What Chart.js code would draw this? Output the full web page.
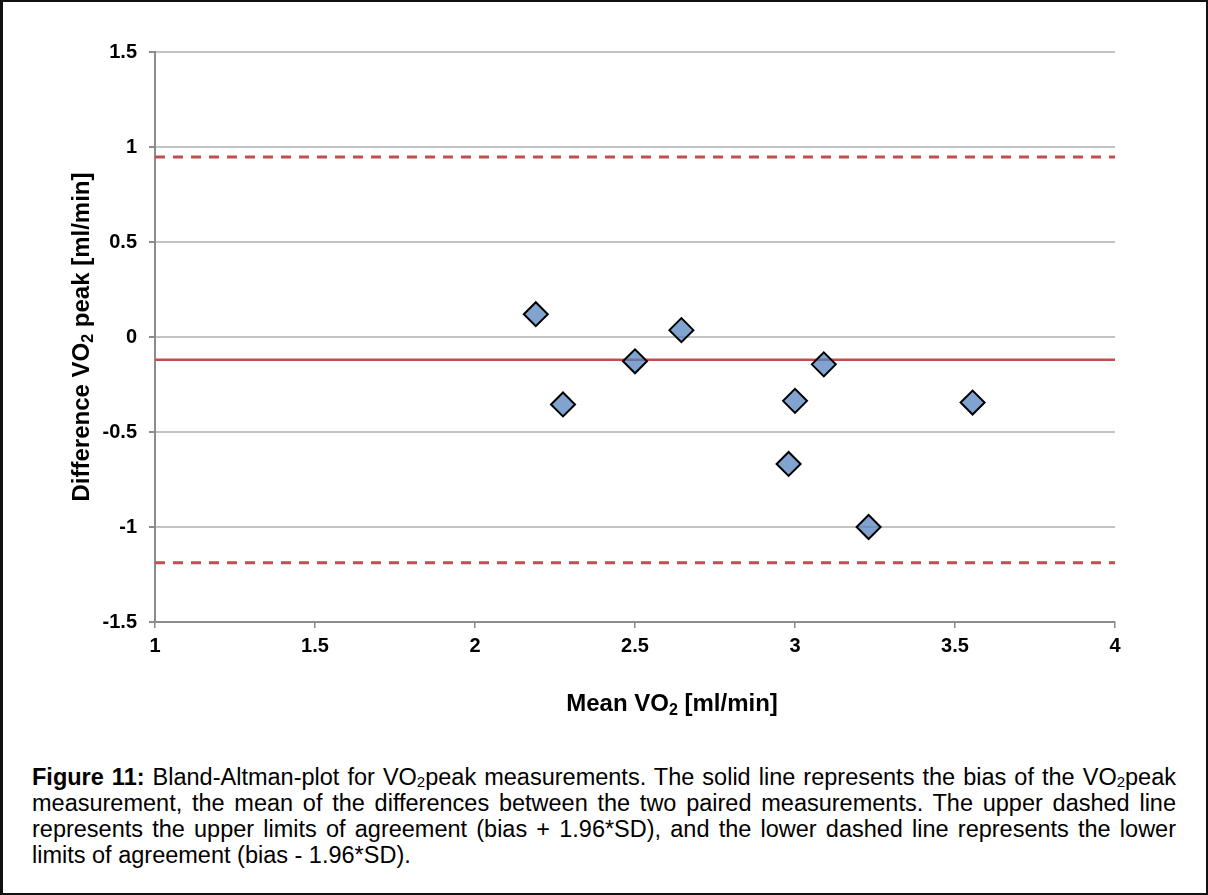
<!DOCTYPE html>
<html>
<head>
<meta charset="utf-8">
<title>Bland-Altman plot VO2peak</title>
<script src="https://cdn.jsdelivr.net/npm/chart.js@4.4.1/dist/chart.umd.min.js"></script>
<style>
  html, body { margin: 0; padding: 0; background: #fff; }
  #frame {
    position: relative; width: 1208px; height: 895px; box-sizing: border-box;
    border: 2px solid #111; border-left-width: 3px; background: #fff; overflow: hidden;
  }
  #plot { position: absolute; left: -3px; top: -2px; width: 1208px; height: 740px; }
  #caption {
    position: absolute; left: 29px; top: 762px; width: 1144px;
    font-family: "Liberation Sans", Arial, sans-serif; font-size: 23.5px; line-height: 26px;
    color: #000;
  }
  #caption .ln { white-space: nowrap; text-align: justify; text-align-last: justify; }
  #caption .ln.last { text-align-last: left; }
  #caption sub { font-size: 15px; vertical-align: -2px; line-height: 0; }
</style>
</head>
<body>
<div id="frame">
  <div id="plot"><canvas id="c"></canvas></div>
  <div id="caption">
    <div class="ln"><b>Figure 11:</b> Bland-Altman-plot for VO<sub>2</sub>peak measurements. The solid line represents the bias of the VO<sub>2</sub>peak</div>
    <div class="ln">measurement, the mean of the differences between the two paired measurements. The upper dashed line</div>
    <div class="ln">represents the upper limits of agreement (bias + 1.96*SD), and the lower dashed line represents the lower</div>
    <div class="ln last">limits of agreement (bias - 1.96*SD).</div>
  </div>
</div>
<script>
// Mean of the two VO2peak measurements per subject (x) and their difference (y)
const meanVO2 = [2.19, 2.275, 2.50, 2.645, 2.98, 3.00, 3.09, 3.23, 3.555];
const diffVO2 = [0.12, -0.355, -0.128, 0.036, -0.668, -0.336, -0.144, -1.00, -0.345];

// Bias and limits of agreement (bias ± 1.96*SD)
const bias = -0.12;
const upperLoA = 0.948;
const lowerLoA = -1.188;

// Axis ranges and tick steps
const xRange = [1, 4];
const yRange = [-1.5, 1.5];
const tickStep = 0.5;

// Axis titles as [text, isSubscript] runs
const xTitle = [['Mean VO', false], ['2', true], [' [ml/min]', false]];
const yTitle = [['Difference VO', false], ['2', true], [' peak [ml/min]', false]];

const FONT = '"Liberation Sans", Arial, sans-serif';
const RED = '#C0504D';
const AXIS = '#8c8c8c';
const TITLE_FONT = 'bold 24px ' + FONT;
const SUB_FONT = 'bold 16px ' + FONT;

const points = meanVO2.map((x, i) => ({ x, y: diffVO2[i] }));
const hline = v => [{ x: xRange[0], y: v }, { x: xRange[1], y: v }];
const tickText = v => String(v);

// Draws a run of text with subscripts, centred on (cx, cy), optionally rotated
function drawRichText(ctx, runs, cx, cy, angle) {
  ctx.save();
  ctx.translate(cx, cy);
  ctx.rotate(angle);
  ctx.fillStyle = '#000';
  ctx.textBaseline = 'alphabetic';
  ctx.textAlign = 'left';
  let total = 0;
  const widths = runs.map(([t, sub]) => {
    ctx.font = sub ? SUB_FONT : TITLE_FONT;
    const w = ctx.measureText(t).width;
    total += w;
    return w;
  });
  let x = -total / 2;
  runs.forEach(([t, sub], i) => {
    ctx.font = sub ? SUB_FONT : TITLE_FONT;
    ctx.fillText(t, x, sub ? 13 : 8.5);
    x += widths[i];
  });
  ctx.restore();
}

const axisTitles = {
  id: 'axisTitles',
  afterDraw(chart) {
    const { ctx } = chart;
    const xs = chart.scales.x, ys = chart.scales.y;
    drawRichText(ctx, xTitle, (xs.left + xs.right) / 2 + 37, xs.bottom - 38, 0);
    drawRichText(ctx, yTitle, ys.left + 80, (ys.top + ys.bottom) / 2, -Math.PI / 2);
  }
};

new Chart(document.getElementById('c'), {
  type: 'scatter',
  data: {
    datasets: [
      {
        label: 'Differences',
        data: points,
        pointStyle: 'rectRot',
        pointRadius: 12,
        pointHoverRadius: 12,
        backgroundColor: 'rgba(79,129,189,0.72)',
        borderColor: '#000',
        borderWidth: 2
      },
      {
        label: 'Bias',
        type: 'line',
        data: hline(bias),
        borderColor: RED,
        borderWidth: 2.5,
        pointRadius: 0,
        fill: false
      },
      {
        label: 'Upper limit of agreement',
        type: 'line',
        data: hline(upperLoA),
        borderColor: RED,
        borderWidth: 3,
        borderDash: [10, 8],
        pointRadius: 0,
        fill: false
      },
      {
        label: 'Lower limit of agreement',
        type: 'line',
        data: hline(lowerLoA),
        borderColor: RED,
        borderWidth: 3,
        borderDash: [10, 8],
        pointRadius: 0,
        fill: false
      }
    ]
  },
  plugins: [axisTitles],
  options: {
    responsive: true,
    maintainAspectRatio: false,
    animation: false,
    events: [],
    layout: { padding: { top: 52, right: 93, bottom: 0, left: 0 } },
    plugins: { legend: { display: false }, tooltip: { enabled: false } },
    scales: {
      x: {
        type: 'linear',
        min: xRange[0], max: xRange[1],
        ticks: {
          stepSize: tickStep, padding: 6, color: '#000', callback: tickText,
          font: { family: FONT, size: 20, weight: 'bold' }
        },
        grid: { drawOnChartArea: false, color: AXIS, lineWidth: 1.5, tickLength: 6 },
        border: { color: AXIS, width: 2 },
        afterFit: s => { s.height = 118; }
      },
      y: {
        type: 'linear',
        min: yRange[0], max: yRange[1],
        ticks: {
          stepSize: tickStep, padding: 12, color: '#000', callback: tickText,
          font: { family: FONT, size: 20, weight: 'bold' }
        },
        grid: { color: '#c3c3c3', lineWidth: 2, tickColor: AXIS, tickLength: 6 },
        border: { color: AXIS, width: 2 },
        afterFit: s => { s.width = 155; }
      }
    }
  }
});
</script>
</body>
</html>
